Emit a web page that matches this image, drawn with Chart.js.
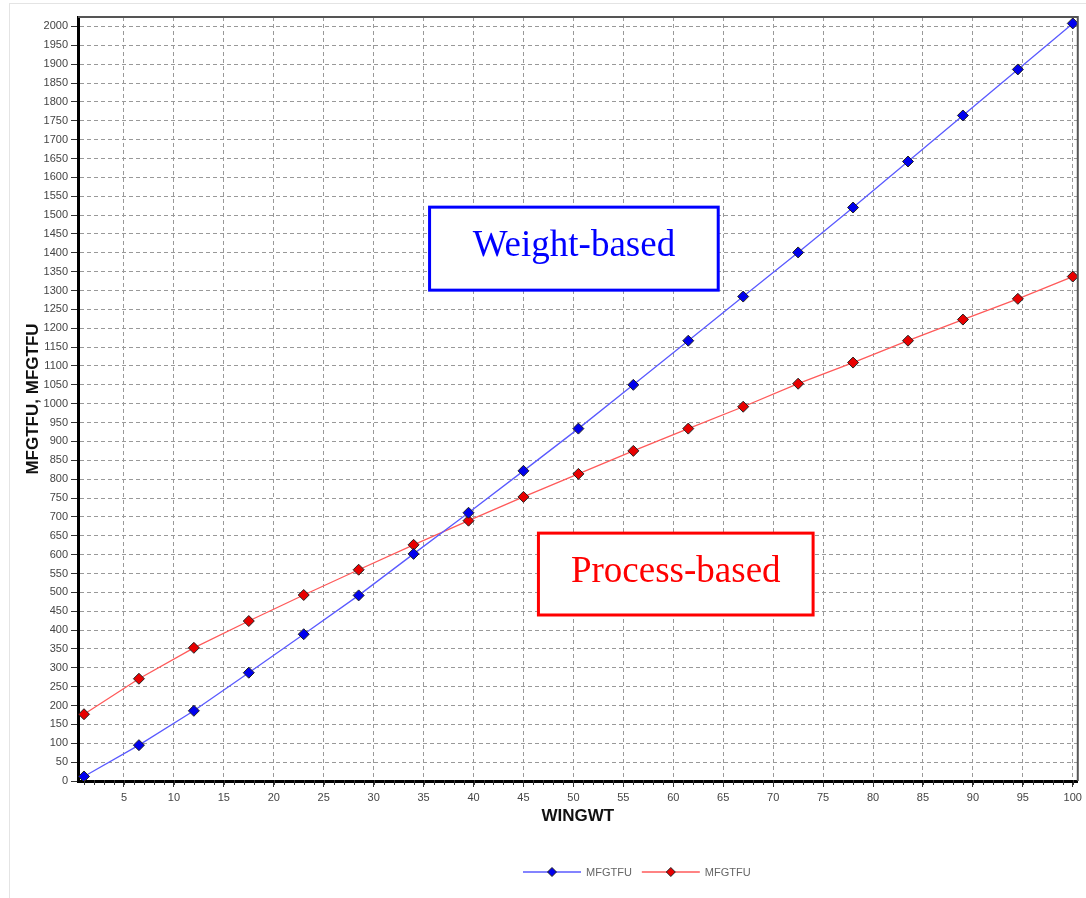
<!DOCTYPE html>
<html>
<head>
<meta charset="utf-8">
<title>WINGWT vs MFGTFU</title>
<script src="https://cdn.jsdelivr.net/npm/chart.js@4.4.0/dist/chart.umd.min.js"></script>
<style>
  html, body { margin: 0; padding: 0; background: #fff; }
  #wrap { position: relative; width: 1086px; height: 898px; }
  #frame { position: absolute; left: 9px; top: 3px; right: 0; bottom: 0; border-left: 1px solid #e4e4e4; border-top: 1px solid #e4e4e4; pointer-events: none; }
</style>
</head>
<body>
<div id="wrap">
  <div id="frame"></div>
  <canvas id="chart"></canvas>
</div>
<script>
const wingwt = [1, 6.5, 12, 17.5, 23, 28.5, 34, 39.5, 45, 50.5, 56, 61.5, 67, 72.5, 78, 83.5, 89, 94.5, 100];
const weightBased = [12, 95, 186, 287, 389, 492, 602, 711, 822, 934, 1050, 1167, 1284, 1401, 1520, 1642, 1764, 1886, 2008];
const processBased = [177, 271, 353, 424, 493, 560, 626, 690, 753, 814, 875, 934, 992, 1053, 1109, 1167, 1223, 1278, 1337];
const xTicks = [5, 10, 15, 20, 25, 30, 35, 40, 45, 50, 55, 60, 65, 70, 75, 80, 85, 90, 95, 100];
const yTicks = [0, 50, 100, 150, 200, 250, 300, 350, 400, 450, 500, 550, 600, 650, 700, 750, 800, 850, 900, 950,
  1000, 1050, 1100, 1150, 1200, 1250, 1300, 1350, 1400, 1450, 1500, 1550, 1600, 1650, 1700, 1750, 1800, 1850, 1900, 1950, 2000];

Chart.defaults.font.family = '"Liberation Sans", Arial, sans-serif';
Chart.defaults.color = '#444';

const toPoints = ys => ys.map((y, i) => ({x: wingwt[i], y: y}));

// frame on top/right plus the small unit ticks on the x axis
const plotFrame = {
  id: 'plotFrame',
  afterDraw(chart) {
    const {ctx, chartArea: a, scales: {x}} = chart;
    ctx.save();
    ctx.strokeStyle = '#555';
    ctx.lineWidth = 2;
    ctx.beginPath();
    ctx.moveTo(a.left, a.top);
    ctx.lineTo(a.right, a.top);
    ctx.lineTo(a.right, a.bottom);
    ctx.stroke();
    ctx.strokeStyle = '#333';
    ctx.lineWidth = 1;
    ctx.beginPath();
    for (let v = 1; v <= 100; v++) {
      const px = Math.round(x.getPixelForValue(v)) + 0.5;
      ctx.moveTo(px, a.bottom - 1);
      ctx.lineTo(px, a.bottom + 4);
    }
    ctx.stroke();
    ctx.restore();
  }
};

// the two framed text labels, placed in data coordinates
const labelBoxes = {
  id: 'labelBoxes',
  beforeDatasetsDraw(chart, args, opts) {
    const {ctx, scales: {x, y}} = chart;
    opts.boxes.forEach(b => {
      const l = x.getPixelForValue(b.xMin), r = x.getPixelForValue(b.xMax);
      const t = y.getPixelForValue(b.yMax), btm = y.getPixelForValue(b.yMin);
      ctx.save();
      ctx.fillStyle = '#fff';
      ctx.fillRect(l, t, r - l, btm - t);
      ctx.strokeStyle = b.color;
      ctx.lineWidth = 3;
      ctx.strokeRect(l, t, r - l, btm - t);
      ctx.fillStyle = b.color;
      ctx.font = '37px "Liberation Serif", "DejaVu Serif", serif';
      ctx.textAlign = 'center';
      ctx.textBaseline = 'middle';
      ctx.fillText(b.text, (l + r) / 2, (t + btm) / 2 - 2);
      ctx.restore();
    });
  }
};

// legend: line with diamond, then label
const lineLegend = {
  id: 'lineLegend',
  afterDraw(chart, args, opts) {
    const ctx = chart.ctx;
    let x = opts.x;
    const y = opts.y;
    ctx.save();
    ctx.font = '11px "Liberation Sans", Arial, sans-serif';
    ctx.textBaseline = 'middle';
    chart.data.datasets.forEach(ds => {
      ctx.strokeStyle = ds.borderColor;
      ctx.lineWidth = 1.5;
      ctx.beginPath();
      ctx.moveTo(x, y);
      ctx.lineTo(x + opts.lineLength, y);
      ctx.stroke();
      ctx.fillStyle = ds.pointBackgroundColor;
      ctx.strokeStyle = ds.pointBorderColor;
      ctx.lineWidth = 1;
      Chart.helpers.drawPoint(ctx, {pointStyle: 'rectRot', radius: 4.5, borderWidth: 1}, x + opts.lineLength / 2, y);
      ctx.fillStyle = '#666';
      ctx.fillText(ds.label, x + opts.lineLength + 5, y + 1);
      x += opts.lineLength + 5 + ctx.measureText(ds.label).width + 10;
    });
    ctx.restore();
  }
};

const config = {
  type: 'line',
  data: {
    datasets: [
      {
        label: 'MFGTFU',
        data: toPoints(weightBased),
        borderColor: '#5a5aff',
        borderWidth: 1.3,
        pointStyle: 'rectRot',
        pointRadius: 5.5,
        pointBackgroundColor: '#0000ee',
        pointBorderColor: '#222',
        pointBorderWidth: 1,
        tension: 0,
      },
      {
        label: 'MFGTFU',
        data: toPoints(processBased),
        borderColor: '#ff5a5a',
        borderWidth: 1.3,
        pointStyle: 'rectRot',
        pointRadius: 5.5,
        pointBackgroundColor: '#e80000',
        pointBorderColor: '#222',
        pointBorderWidth: 1,
        tension: 0,
      },
    ],
  },
  options: {
    responsive: true,
    maintainAspectRatio: false,
    animation: false,
    layout: {
      padding: {left: 10, right: 8, top: 17, bottom: 62},
    },
    plugins: {
      legend: {display: false},
      tooltip: {enabled: false},
      labelBoxes: {
        boxes: [
          {text: 'Weight-based', color: '#0000ff', xMin: 35.6, xMax: 64.5, yMin: 1301, yMax: 1521},
          {text: 'Process-based', color: '#ff0000', xMin: 46.5, xMax: 74.0, yMin: 440, yMax: 657},
        ],
      },
      lineLegend: {x: 523, y: 872, lineLength: 58},
    },
    scales: {
      x: {
        type: 'linear',
        min: 0.4,
        max: 100.5,
        afterBuildTicks: scale => { scale.ticks = xTicks.map(v => ({value: v})); },
        afterFit: scale => { scale.height = 55; },
        ticks: {font: {size: 11}, color: '#444', padding: 4, maxRotation: 0, callback: v => String(v)},
        grid: {color: '#999', lineWidth: 1, tickLength: 6, tickColor: '#333', tickBorderDash: []},
        border: {display: true, color: '#000', width: 3, dash: [4, 3]},
        title: {
          display: true,
          text: 'WINGWT',
          color: '#111',
          font: {size: 17, weight: 'bold'},
          padding: {top: 0, bottom: 9},
        },
      },
      y: {
        type: 'linear',
        min: 0,
        max: 2025,
        afterBuildTicks: scale => { scale.ticks = yTicks.map(v => ({value: v})); },
        afterFit: scale => { scale.width = 68; },
        ticks: {font: {size: 11}, color: '#444', padding: 3, callback: v => String(v)},
        grid: {color: '#999', lineWidth: 1, tickLength: 7, tickColor: '#333', tickBorderDash: []},
        border: {display: true, color: '#000', width: 3, dash: [4, 3]},
        title: {
          display: true,
          text: 'MFGTFU, MFGTFU',
          color: '#111',
          font: {size: 17, weight: 'bold'},
          padding: {top: 13, bottom: 0},
        },
      },
    },
  },
  plugins: [labelBoxes, plotFrame, lineLegend],
};

const myChart = new Chart(document.getElementById('chart'), config);
</script>
</body>
</html>
